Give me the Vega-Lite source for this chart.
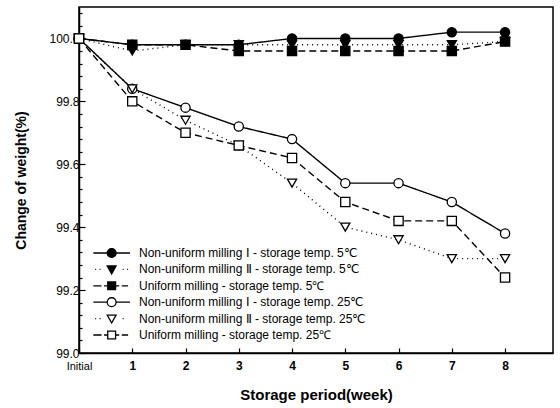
{
  "$schema": "https://vega.github.io/schema/vega-lite/v6.json",
  "autosize": "none",
  "padding": {"left": 79, "top": 7, "right": 7, "bottom": 55},
  "width": 474,
  "height": 346,
  "background": "white",
  "config": {
    "view": {"stroke": "black", "strokeWidth": 1.5},
    "font": "Liberation Sans",
    "axis": {"domainColor": "black", "domainWidth": 1.5, "tickColor": "black", "tickWidth": 1.2, "labelColor": "black", "titleColor": "black", "grid": false, "labelFont": "Liberation Sans", "titleFont": "Liberation Sans"},
    "legend": {"labelFont": "Liberation Sans"}
  },
  "data": {
    "values": [
      {"week": 0, "weight": 100.0, "series": "Non-uniform milling Ⅰ - storage temp. 5℃"},
      {"week": 1, "weight": 99.98, "series": "Non-uniform milling Ⅰ - storage temp. 5℃"},
      {"week": 2, "weight": 99.98, "series": "Non-uniform milling Ⅰ - storage temp. 5℃"},
      {"week": 3, "weight": 99.98, "series": "Non-uniform milling Ⅰ - storage temp. 5℃"},
      {"week": 4, "weight": 100.0, "series": "Non-uniform milling Ⅰ - storage temp. 5℃"},
      {"week": 5, "weight": 100.0, "series": "Non-uniform milling Ⅰ - storage temp. 5℃"},
      {"week": 6, "weight": 100.0, "series": "Non-uniform milling Ⅰ - storage temp. 5℃"},
      {"week": 7, "weight": 100.02, "series": "Non-uniform milling Ⅰ - storage temp. 5℃"},
      {"week": 8, "weight": 100.02, "series": "Non-uniform milling Ⅰ - storage temp. 5℃"},
      {"week": 0, "weight": 100.0, "series": "Non-uniform milling Ⅱ - storage temp. 5℃"},
      {"week": 1, "weight": 99.96, "series": "Non-uniform milling Ⅱ - storage temp. 5℃"},
      {"week": 2, "weight": 99.98, "series": "Non-uniform milling Ⅱ - storage temp. 5℃"},
      {"week": 3, "weight": 99.98, "series": "Non-uniform milling Ⅱ - storage temp. 5℃"},
      {"week": 4, "weight": 99.98, "series": "Non-uniform milling Ⅱ - storage temp. 5℃"},
      {"week": 5, "weight": 99.98, "series": "Non-uniform milling Ⅱ - storage temp. 5℃"},
      {"week": 6, "weight": 99.98, "series": "Non-uniform milling Ⅱ - storage temp. 5℃"},
      {"week": 7, "weight": 99.98, "series": "Non-uniform milling Ⅱ - storage temp. 5℃"},
      {"week": 8, "weight": 99.99, "series": "Non-uniform milling Ⅱ - storage temp. 5℃"},
      {"week": 0, "weight": 100.0, "series": "Uniform milling - storage temp. 5℃"},
      {"week": 1, "weight": 99.98, "series": "Uniform milling - storage temp. 5℃"},
      {"week": 2, "weight": 99.98, "series": "Uniform milling - storage temp. 5℃"},
      {"week": 3, "weight": 99.96, "series": "Uniform milling - storage temp. 5℃"},
      {"week": 4, "weight": 99.96, "series": "Uniform milling - storage temp. 5℃"},
      {"week": 5, "weight": 99.96, "series": "Uniform milling - storage temp. 5℃"},
      {"week": 6, "weight": 99.96, "series": "Uniform milling - storage temp. 5℃"},
      {"week": 7, "weight": 99.96, "series": "Uniform milling - storage temp. 5℃"},
      {"week": 8, "weight": 99.99, "series": "Uniform milling - storage temp. 5℃"},
      {"week": 0, "weight": 100.0, "series": "Non-uniform milling Ⅰ - storage temp. 25℃"},
      {"week": 1, "weight": 99.84, "series": "Non-uniform milling Ⅰ - storage temp. 25℃"},
      {"week": 2, "weight": 99.78, "series": "Non-uniform milling Ⅰ - storage temp. 25℃"},
      {"week": 3, "weight": 99.72, "series": "Non-uniform milling Ⅰ - storage temp. 25℃"},
      {"week": 4, "weight": 99.68, "series": "Non-uniform milling Ⅰ - storage temp. 25℃"},
      {"week": 5, "weight": 99.54, "series": "Non-uniform milling Ⅰ - storage temp. 25℃"},
      {"week": 6, "weight": 99.54, "series": "Non-uniform milling Ⅰ - storage temp. 25℃"},
      {"week": 7, "weight": 99.48, "series": "Non-uniform milling Ⅰ - storage temp. 25℃"},
      {"week": 8, "weight": 99.38, "series": "Non-uniform milling Ⅰ - storage temp. 25℃"},
      {"week": 0, "weight": 100.0, "series": "Non-uniform milling Ⅱ - storage temp. 25℃"},
      {"week": 1, "weight": 99.84, "series": "Non-uniform milling Ⅱ - storage temp. 25℃"},
      {"week": 2, "weight": 99.74, "series": "Non-uniform milling Ⅱ - storage temp. 25℃"},
      {"week": 3, "weight": 99.66, "series": "Non-uniform milling Ⅱ - storage temp. 25℃"},
      {"week": 4, "weight": 99.54, "series": "Non-uniform milling Ⅱ - storage temp. 25℃"},
      {"week": 5, "weight": 99.40, "series": "Non-uniform milling Ⅱ - storage temp. 25℃"},
      {"week": 6, "weight": 99.36, "series": "Non-uniform milling Ⅱ - storage temp. 25℃"},
      {"week": 7, "weight": 99.30, "series": "Non-uniform milling Ⅱ - storage temp. 25℃"},
      {"week": 8, "weight": 99.30, "series": "Non-uniform milling Ⅱ - storage temp. 25℃"},
      {"week": 0, "weight": 100.0, "series": "Uniform milling - storage temp. 25℃"},
      {"week": 1, "weight": 99.80, "series": "Uniform milling - storage temp. 25℃"},
      {"week": 2, "weight": 99.70, "series": "Uniform milling - storage temp. 25℃"},
      {"week": 3, "weight": 99.66, "series": "Uniform milling - storage temp. 25℃"},
      {"week": 4, "weight": 99.62, "series": "Uniform milling - storage temp. 25℃"},
      {"week": 5, "weight": 99.48, "series": "Uniform milling - storage temp. 25℃"},
      {"week": 6, "weight": 99.42, "series": "Uniform milling - storage temp. 25℃"},
      {"week": 7, "weight": 99.42, "series": "Uniform milling - storage temp. 25℃"},
      {"week": 8, "weight": 99.24, "series": "Uniform milling - storage temp. 25℃"}
    ]
  },
  "encoding": {
    "x": {
      "field": "week", "type": "quantitative",
      "scale": {"domain": [0, 8.9], "nice": false, "zero": false},
      "axis": {
        "title": "Storage period(week)", "titleFontSize": 15, "titleFontWeight": "bold", "titlePadding": 16,
        "values": [0, 1, 2, 3, 4, 5, 6, 7, 8],
        "labelExpr": "datum.value == 0 ? 'Initial' : datum.label",
        "labelFontWeight": {"condition": {"test": "datum.value == 0", "value": "normal"}, "value": "bold"},
        "labelFontSize": {"condition": {"test": "datum.value == 0", "value": 11}, "value": 12},
        "labelFlush": false, "labelOverlap": false,
        "tickSize": -5, "labelPadding": 12
      }
    },
    "y": {
      "field": "weight", "type": "quantitative",
      "scale": {"domain": [99, 100.1], "nice": false, "zero": false},
      "axis": {
        "title": "Change of weight(%)", "titleFontSize": 14, "titleFontWeight": "bold", "titlePadding": 20,
        "values": [99.0, 99.2, 99.4, 99.6, 99.8, 100.0],
        "format": ".1f", "labelFontSize": 12, "labelOverlap": false,
        "tickSize": -6, "labelPadding": 6
      }
    }
  },
  "layer": [
    {
      "mark": {"type": "line", "stroke": "black", "strokeWidth": 1.4},
      "encoding": {
        "detail": {"field": "series"},
        "strokeDash": {
          "field": "series", "type": "nominal", "legend": null,
          "scale": {
            "domain": ["Non-uniform milling Ⅰ - storage temp. 5℃", "Non-uniform milling Ⅱ - storage temp. 5℃", "Uniform milling - storage temp. 5℃", "Non-uniform milling Ⅰ - storage temp. 25℃", "Non-uniform milling Ⅱ - storage temp. 25℃", "Uniform milling - storage temp. 25℃"],
            "range": [[1, 0], [1, 4], [7, 4], [1, 0], [1, 4], [7, 4]]
          }
        }
      }
    },
    {
      "mark": {"type": "point", "stroke": "black", "strokeWidth": 1.3, "opacity": 1, "size": 85},
      "encoding": {
        "y": {
          "field": "weight", "type": "quantitative",
          "scale": {"domain": [99, 100.1], "nice": false, "zero": false},
          "axis": {
            "title": null, "labels": false, "domain": false, "tickSize": -3,
            "values": [99.04, 99.08, 99.12, 99.16, 99.24, 99.28, 99.32, 99.36, 99.44, 99.48, 99.52, 99.56, 99.64, 99.68, 99.72, 99.76, 99.84, 99.88, 99.92, 99.96, 100.04, 100.08],
            "orient": "left"
          }
        },
        "shape": {
          "field": "series", "type": "nominal", "legend": null,
          "scale": {
            "domain": ["Non-uniform milling Ⅰ - storage temp. 5℃", "Non-uniform milling Ⅱ - storage temp. 5℃", "Uniform milling - storage temp. 5℃", "Non-uniform milling Ⅰ - storage temp. 25℃", "Non-uniform milling Ⅱ - storage temp. 25℃", "Uniform milling - storage temp. 25℃"],
            "range": ["circle", "triangle-down", "square", "circle", "triangle-down", "square"]
          }
        },
        "fill": {
          "field": "series", "type": "nominal", "legend": null,
          "scale": {
            "domain": ["Non-uniform milling Ⅰ - storage temp. 5℃", "Non-uniform milling Ⅱ - storage temp. 5℃", "Uniform milling - storage temp. 5℃", "Non-uniform milling Ⅰ - storage temp. 25℃", "Non-uniform milling Ⅱ - storage temp. 25℃", "Uniform milling - storage temp. 25℃"],
            "range": ["black", "black", "black", "white", "white", "white"]
          }
        }
      }
    },
    {
      "transform": [{"filter": "false"}],
      "mark": {"type": "point", "stroke": "black", "strokeWidth": 1.3, "opacity": 1, "size": 160},
      "encoding": {
        "y": {
          "field": "weight", "type": "quantitative",
          "scale": {"domain": [99, 100.1], "nice": false, "zero": false},
          "axis": null
        },
        "shape": {
          "field": "series", "type": "nominal",
          "scale": {
            "domain": ["Non-uniform milling Ⅰ - storage temp. 5℃", "Non-uniform milling Ⅱ - storage temp. 5℃", "Uniform milling - storage temp. 5℃", "Non-uniform milling Ⅰ - storage temp. 25℃", "Non-uniform milling Ⅱ - storage temp. 25℃", "Uniform milling - storage temp. 25℃"],
            "range": [
              "M-0.9,0H1.3M2.7,0H4.9M1.3,0A0.7,0.7,0,1,0,2.7,0A0.7,0.7,0,1,0,1.3,0Z",
              "M-0.6,0H-0.45M0.1,0H0.25M3.75,0H3.9M4.45,0H4.6M1.3,-0.55L2.7,-0.55L2,0.7Z",
              "M-0.9,0H0.4M0.8,0H1.35M2.65,0H3.2M3.6,0H4.6M1.38,-0.62H2.62V0.62H1.38Z",
              "M-0.9,0H1.3M2.7,0H4.9M1.3,0A0.7,0.7,0,1,0,2.7,0A0.7,0.7,0,1,0,1.3,0Z",
              "M-0.6,0H-0.45M0.1,0H0.25M3.75,0H3.9M1.3,-0.55L2.7,-0.55L2,0.7Z",
              "M-0.9,0H0.4M0.8,0H1.35M2.65,0H3.2M3.6,0H4.6M1.38,-0.62H2.62V0.62H1.38Z"
            ]
          },
          "legend": {
            "title": null, "orient": "none", "legendX": 13, "legendY": 240,
            "symbolSize": 160, "symbolStrokeWidth": 1.3, "symbolStrokeColor": "black", "symbolOpacity": 1,
            "labelFontSize": 12, "labelColor": "black", "labelOffset": 33, "labelLimit": 400,
            "clipHeight": 12, "rowPadding": 4.4, "padding": 0,
            "encode": {"symbols": {"update": {"stroke": {"value": "black"}, "strokeWidth": {"value": 1.3}, "opacity": {"value": 1}}}}
          }
        },
        "fill": {
          "field": "series", "type": "nominal",
          "scale": {
            "domain": ["Non-uniform milling Ⅰ - storage temp. 5℃", "Non-uniform milling Ⅱ - storage temp. 5℃", "Uniform milling - storage temp. 5℃", "Non-uniform milling Ⅰ - storage temp. 25℃", "Non-uniform milling Ⅱ - storage temp. 25℃", "Uniform milling - storage temp. 25℃"],
            "range": ["black", "black", "black", "white", "white", "white"]
          },
          "legend": {
            "title": null, "orient": "none", "legendX": 13, "legendY": 240,
            "symbolSize": 160, "symbolStrokeWidth": 1.3, "symbolStrokeColor": "black", "symbolOpacity": 1,
            "labelFontSize": 12, "labelColor": "black", "labelOffset": 33, "labelLimit": 400,
            "clipHeight": 12, "rowPadding": 4.4, "padding": 0,
            "encode": {"symbols": {"update": {"stroke": {"value": "black"}, "strokeWidth": {"value": 1.3}, "opacity": {"value": 1}}}}
          }
        }
      }
    }
  ],
  "resolve": {
    "scale": {"shape": "independent", "fill": "independent"},
    "axis": {"y": "independent"}
  }
}
